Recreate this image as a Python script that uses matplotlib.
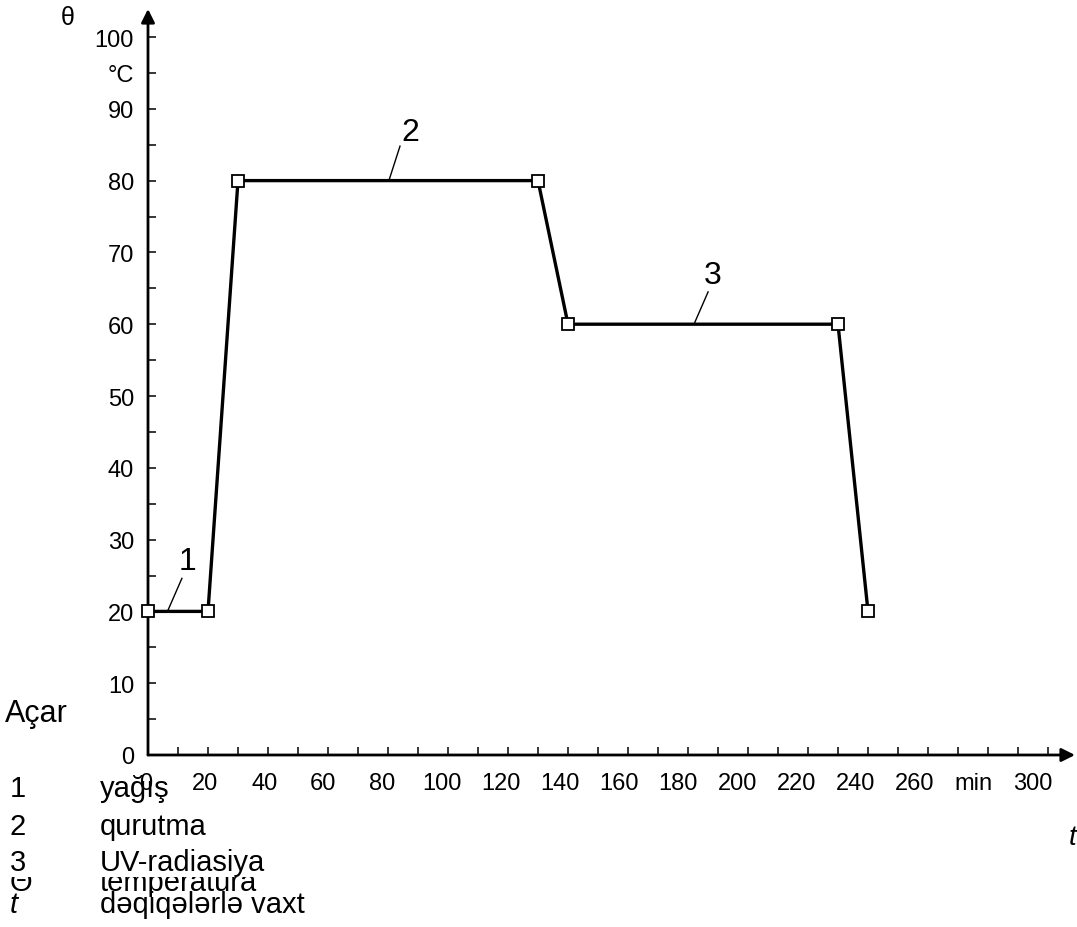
import matplotlib
matplotlib.use('Agg')
import matplotlib.pyplot as plt
import matplotlib.transforms as mtransforms
from matplotlib.patches import Rectangle

plt.rcParams['font.family'] = ['Liberation Sans', 'DejaVu Sans']

# Daten: Temperaturzyklus
zeit = [0, 20, 30, 130, 140, 230, 240]
temperatur = [20, 20, 80, 80, 60, 60, 20]

# Achsenbeschriftungen
x_major = list(range(0, 301, 20))
x_labels = ['0', '20', '40', '60', '80', '100', '120', '140', '160', '180',
            '200', '220', '240', '260', 'min', '300']
y_major = [0, 10, 20, 30, 40, 50, 60, 70, 80, 90, 95, 100]
y_labels = ['0', '10', '20', '30', '40', '50', '60', '70', '80', '90', '°C', '100']

# Phasen-Nummern: (Text, Textposition, Hinweislinie von, bis)
phasen = ['1', '2', '3']
phasen_text = [(13.3, 27.0), (87.3, 86.8), (188.3, 66.9)]
phasen_linie = [((11.3, 24.6), (6.7, 20.2)),
                ((84.0, 84.8), (80.3, 80.0)),
                ((186.7, 64.5), (182.0, 60.0))]

# Legende
legende_nr = ['1', '2', '3', 'Θ', 't']
legende_text = ['yağış', 'qurutma', 'UV-radiasiya', 'temperatura', 'dəqiqələrlə vaxt']
legende_y = [797, 835, 871, 891, 913]

W, H = 1077, 928
fig = plt.figure(figsize=(W / 100, H / 100), dpi=100)

def px(x, y):
    return x / W, 1 - y / H

ax = fig.add_axes([148 / W, (H - 756) / H, (1075 - 148) / W, (756 - 10) / H])
ax.set_xlim(0, 309)
ax.set_ylim(0, 103.9)
for s in ax.spines.values():
    s.set_visible(False)
ax.patch.set_visible(False)

# Achsen mit Pfeilen
for ziel in [(1, 0), (0, 1)]:
    ax.annotate('', xy=ziel, xytext=(0, 0), xycoords='axes fraction',
                arrowprops=dict(arrowstyle='-|>', lw=2, color='black',
                                mutation_scale=20, shrinkA=0, shrinkB=0))

ax.set_xticks(x_major)
ax.set_xticklabels(x_labels)
ax.set_xticks(range(10, 301, 20), minor=True)
ax.set_yticks(y_major)
ax.set_yticklabels(y_labels)
ax.set_yticks([5, 15, 25, 35, 45, 55, 65, 75, 85], minor=True)
ax.tick_params(which='both', direction='in', length=6, width=1.1, color='black')
ax.tick_params(axis='x', which='major', labelsize=17, pad=12)
ax.tick_params(axis='y', which='major', labelsize=17, pad=10)

# Beschriftungen der x-Achse sitzen im Original etwas links der Striche
for wert, lbl in zip(x_major, ax.get_xticklabels()):
    dx = -(2 + 13 * wert / 300) / 100
    lbl.set_transform(lbl.get_transform() +
                      mtransforms.ScaledTranslation(dx, 0, fig.dpi_scale_trans))

ax.plot(zeit, temperatur, color='black', lw=2.4, marker='s', ms=8,
        mfc='white', mec='black', mew=1.3, clip_on=False, zorder=5)

for nr, (tx, ty), (p1, p2) in zip(phasen, phasen_text, phasen_linie):
    ax.text(tx, ty, nr, fontsize=23, ha='center', va='center')
    ax.plot([p1[0], p2[0]], [p1[1], p2[1]], color='black', lw=1.0)

# Achsensymbole
fig.text(*px(68, 18), 'θ', fontsize=18, ha='center', va='center')
fig.text(*px(1069, 838), 't', fontsize=20, style='italic', ha='left', va='center')

# Legende
fig.text(*px(5, 722), 'Açar', fontsize=22, ha='left', va='baseline')
for i, (nr, txt, yb) in enumerate(zip(legende_nr, legende_text, legende_y)):
    z = 10 if i != 2 else 12
    st = 'italic' if nr == 't' else 'normal'
    fig.text(*px(10, yb), nr, fontsize=21, style=st, ha='left', va='baseline', zorder=z)
    fig.text(*px(100, yb), txt, fontsize=21, ha='left', va='baseline', zorder=z)

# "temperatura" ist im Original oben abgeschnitten
fig.add_artist(Rectangle(px(0, 878), 340 / W, 30 / H, transform=fig.transFigure,
                         facecolor='white', edgecolor='none', zorder=11))

fig.savefig('out.png', dpi=100)
